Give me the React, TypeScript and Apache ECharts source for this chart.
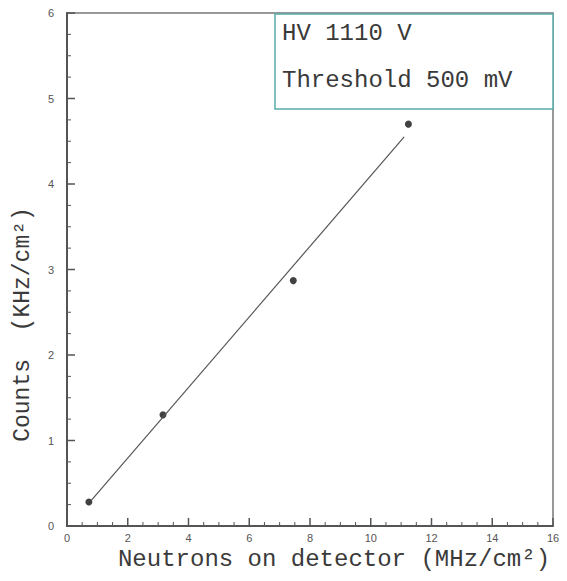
import React, { useEffect, useRef } from "react";
import * as echarts from "echarts";

// Measured points: neutron flux on detector (MHz/cm²) vs counting rate (KHz/cm²)
const fluxValues = [0.72, 3.16, 7.45, 11.24];
const countValues = [0.28, 1.3, 2.87, 4.7];

// Straight-line fit drawn across the measured range
const fitFlux = [0.8, 11.1];
const fitCounts = [0.3, 4.55];

const legendLines = ["HV 1110 V", "Threshold 500 mV"];

const xTitle = "Neutrons on detector (MHz/cm²)";
const yTitle = "Counts  (KHz/cm²)";

// Axis ranges and tick spacing
const X_MAX = 16;
const X_STEP = 2;
const Y_MAX = 6;
const Y_STEP = 1;
const MINOR_SPLIT = 4;

const MONO = "'Liberation Mono', 'DejaVu Sans Mono', monospace";
const SANS = "Arial, 'Liberation Sans', sans-serif";

// Tick list for the inward-pointing tick marks: [axis (0 = x, 1 = y), value, isMajor]
function buildTicks() {
  const ticks: number[][] = [];
  const add = (axis: number, max: number, step: number) => {
    const minor = step / MINOR_SPLIT;
    const count = Math.round(max / minor);
    for (let k = 0; k <= count; k++) {
      ticks.push([axis, k * minor, k % MINOR_SPLIT === 0 ? 1 : 0]);
    }
  };
  add(0, X_MAX, X_STEP);
  add(1, Y_MAX, Y_STEP);
  return ticks;
}

function makeAxis(max: number, interval: number, margin: number) {
  return {
    type: "value",
    min: 0,
    max,
    interval,
    axisLine: { show: true, onZero: false, lineStyle: { color: "#555", width: 2 } },
    axisTick: { show: false },
    splitLine: { show: false },
    axisLabel: { color: "#555", fontFamily: SANS, fontSize: 11, margin },
  };
}

export default function App() {
  const ref = useRef<HTMLDivElement>(null);

  useEffect(() => {
    if (!ref.current) return;
    const chart = echarts.init(ref.current, undefined, { renderer: "svg" });

    const points = fluxValues.map((x, i) => [x, countValues[i]]);
    const fit = fitFlux.map((x, i) => [x, fitCounts[i]]);

    chart.setOption({
      animation: false,
      backgroundColor: "#fff",
      grid: {
        left: 67,
        top: 13,
        right: 14,
        bottom: 55,
        show: true,
        borderColor: "#777",
        borderWidth: 1.5,
        backgroundColor: "transparent",
      },
      xAxis: {
        ...makeAxis(X_MAX, X_STEP, 6),
        name: xTitle,
        nameLocation: "middle",
        nameGap: 18,
        nameTextStyle: {
          fontFamily: MONO,
          fontSize: 24,
          color: "#3a3a3a",
          padding: [0, 0, 0, 48],
        },
      },
      yAxis: {
        ...makeAxis(Y_MAX, Y_STEP, 13),
        name: yTitle,
        nameLocation: "middle",
        nameRotate: 90,
        nameGap: 33,
        nameTextStyle: {
          fontFamily: MONO,
          fontSize: 23,
          color: "#3a3a3a",
          padding: [0, 110, 0, 0],
        },
      },
      series: [
        {
          // tick marks on the left and bottom axes, pointing into the plot
          type: "custom",
          data: buildTicks(),
          clip: false,
          silent: true,
          z: 5,
          renderItem: (params: any, api: any) => {
            const axis = api.value(0);
            const v = api.value(1);
            const major = api.value(2) === 1;
            const len = major ? 8 : 4;
            if (axis === 0) {
              const p = api.coord([v, 0]);
              return {
                type: "line",
                shape: { x1: p[0], y1: p[1], x2: p[0], y2: p[1] - len },
                style: { stroke: "#555", lineWidth: major ? 1.5 : 1 },
              };
            }
            const p = api.coord([0, v]);
            return {
              type: "line",
              shape: { x1: p[0], y1: p[1], x2: p[0] + len, y2: p[1] },
              style: { stroke: "#555", lineWidth: major ? 1.5 : 1 },
            };
          },
        },
        {
          type: "line",
          data: fit,
          symbol: "none",
          lineStyle: { color: "#555", width: 1.2 },
        },
        {
          type: "scatter",
          data: points,
          symbolSize: 7,
          itemStyle: { color: "#111" },
        },
      ],
      graphic: [
        {
          type: "rect",
          shape: { x: 275, y: 14, width: 278, height: 95 },
          style: { fill: "#fff", stroke: "#5aacac", lineWidth: 1.5 },
          z: 10,
        },
        ...legendLines.map((t, i) => ({
          type: "text",
          x: 282,
          y: 33 + i * 47,
          style: {
            text: t,
            font: `24px ${MONO}`,
            fill: "#3a3a3a",
            textVerticalAlign: "middle",
          },
          z: 11,
        })),
      ],
    });

    return () => chart.dispose();
  }, []);

  return <div ref={ref} style={{ width: 567, height: 581, marginLeft: -8, marginTop: -8 }} />;
}
